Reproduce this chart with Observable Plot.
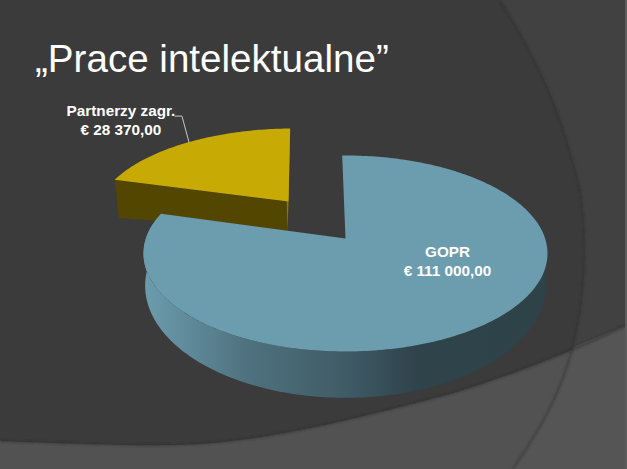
<!DOCTYPE html>
<html lang="pl">
<head>
<meta charset="utf-8">
<script src="https://cdn.jsdelivr.net/npm/d3@7"></script>
<script src="https://cdn.jsdelivr.net/npm/@observablehq/plot@0.6"></script>
<style>
html,body{margin:0;padding:0;background:#3b3b3b;width:627px;height:469px;overflow:hidden}
#stage{position:relative;width:627px;height:469px}
#bg{position:absolute;left:0;top:0}
#chart{position:absolute;left:0;top:0}
#chart svg{background:transparent;display:block}
h1{position:absolute;left:35px;top:37px;margin:0;font:400 38.6px "Liberation Sans",Arial,sans-serif;color:#fff;white-space:nowrap;letter-spacing:0}
</style>
</head>
<body>
<div id="stage">
<svg id="bg" width="627" height="469" viewBox="0 0 627 469">
  <defs><filter id="soft" x="-5%" y="-5%" width="110%" height="110%"><feGaussianBlur stdDeviation="1"/></filter></defs>
  <rect width="627" height="469" fill="#3b3b3b"/>
  <path d="M500,0 C533,53 560,103 580,190 C588,240 585,300 573,347 C560,395 540,430 513,469 L627,469 L627,0 Z" fill="#414141"/>
  <path d="M0,441 C60,443 110,445 150,445 C230,446 300,434 453,393 C510,376 570,352 627,325 L627,469 L0,469 Z" fill="#525252"/>
  <path d="M573,347 C560,395 540,430 513,469 L627,469 L627,325 Z" fill="#555555"/>
  <path d="M500,0 C533,53 560,103 580,190 C588,240 585,300 573,347 C560,395 540,430 513,469" fill="none" stroke="#2e2e2e" stroke-opacity=".55" stroke-width="2" filter="url(#soft)"/>
  <path d="M0,441 C60,443 110,445 150,445 C230,446 300,434 453,393 C510,376 570,352 627,325" fill="none" stroke="#2e2e2e" stroke-opacity=".6" stroke-width="2" filter="url(#soft)"/>
  <rect x="625" y="0" width="2" height="469" fill="#5c5c5c"/>
</svg>
<h1>„Prace intelektualne”</h1>
<div id="chart"></div>
</div>
<script>
// Data
const categories = ["GOPR", "Partnerzy zagr."];
const values = [111000, 28370];
const valueLabels = ["€ 111 000,00", "€ 28 370,00"];
const colors = ["#6b9dae", "#c8aa05"];

// Layout
const W = 627, H = 469;
const startDeg = -1.1, k = 0.153;
const rad = Math.PI / 180;
const goprTop = {cx: 345, cy: 238, B: 199.6, A: 95.7, s: 0};
const goprBottom = {cx: 345, cy: 268, B: 198, A: 109.5, s: 0};
const partTop = {cx: 288, cy: 201, B: 189.5, A: 84.2, s: -0.066};
const partBottom = {cx: 287, cy: 230, B: 183, A: 48, s: -0.05};

const arcs = d3.pie().sort(null).startAngle(startDeg * rad).endAngle((startDeg + 360) * rad)(values);

function project(d, a, r = 1) {
  const X = r * Math.sin(a), Y = -r * Math.cos(a), w = 1 - k * Y, v = Y / w;
  return {x: d.cx + d.B * X / w + d.s * d.A * v, y: d.cy + d.A * v};
}
function rim(d, a0, a1, step = 1 * rad) {
  const n = Math.max(1, Math.ceil(Math.abs(a1 - a0) / step));
  return d3.range(n + 1).map(i => project(d, a0 + (a1 - a0) * i / n));
}
const sector = (d, a0, a1) => [project(d, 0, 0), ...rim(d, a0, a1)];

const gopr = arcs[0], part = arcs[1];
const sideA = 81 * rad, sideB = 279 * rad;
const goprSide = [...rim(goprTop, sideA, sideB), ...rim(goprBottom, sideB, sideA)];
const partFront = [project(partTop, part.startAngle), project(partTop, 0, 0), project(partBottom, 0, 0), project(partBottom, part.startAngle)];
const partSliver = [project(partTop, part.endAngle), project(partTop, 0, 0), project(partBottom, 0, 0), project(partBottom, part.endAngle)];

const partMid = project(partTop, (part.startAngle + part.endAngle) / 2);
const leader = [partMid, {x: partMid.x - 7, y: partMid.y - 26}, {x: partMid.x - 14, y: partMid.y - 26}];
const labels = [
  {x: 447, y: 260, text: categories[0] + "\n" + valueLabels[0]},
  {x: partMid.x - 68, y: partMid.y - 22.5, text: categories[1] + "\n" + valueLabels[1]}
];

const poly = (pts, fill) => Plot.line(pts, {x: "x", y: "y", fill, stroke: "none"});

const gradient = () => {
  const ns = "http://www.w3.org/2000/svg";
  const defs = document.createElementNS(ns, "defs");
  const g = document.createElementNS(ns, "linearGradient");
  g.setAttribute("id", "goprSide");
  g.setAttribute("gradientUnits", "userSpaceOnUse");
  g.setAttribute("x1", 145); g.setAttribute("x2", 545); g.setAttribute("y1", 0); g.setAttribute("y2", 0);
  [[0, "#6b9cad"], [0.25, "#4f727f"], [0.5, "#3f5b66"], [0.68, "#2f434b"], [1, "#2e4248"]].forEach(([o, c]) => {
    const s = document.createElementNS(ns, "stop");
    s.setAttribute("offset", o); s.setAttribute("stop-color", c);
    g.appendChild(s);
  });
  defs.appendChild(g);
  return defs;
};

const chart = Plot.plot({
  width: W, height: H, margin: 0,
  style: {background: "transparent"},
  x: {domain: [0, W], range: [0, W], axis: null},
  y: {domain: [0, H], range: [0, H], axis: null},
  marks: [
    gradient,
    poly(partFront, "#524600"),
    poly(partSliver, "#8f7d0a"),
    poly(sector(partTop, part.startAngle, part.endAngle), colors[1]),
    poly(goprSide, "url(#goprSide)"),
    poly(sector(goprTop, gopr.startAngle, gopr.endAngle), colors[0]),
    Plot.line(leader, {x: "x", y: "y", stroke: "#c8c8c8", strokeWidth: 1}),
    Plot.text(labels, {x: "x", y: "y", text: "text", fill: "#fff", fontSize: 15.3, fontWeight: 700, fontFamily: "Liberation Sans, Arial, sans-serif", lineHeight: 1.22, textAnchor: "middle"})
  ]
});
document.getElementById("chart").appendChild(chart);
</script>
</body>
</html>
